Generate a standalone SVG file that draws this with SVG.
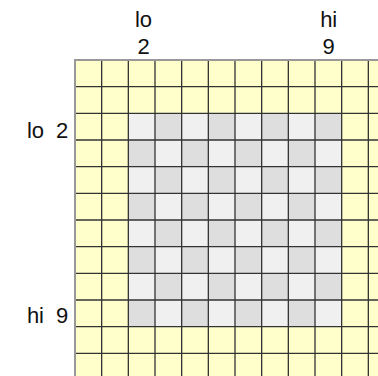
<svg xmlns="http://www.w3.org/2000/svg" width="378" height="376" viewBox="0 0 378 376">
<style>
.lbl{font-family:"Liberation Sans",Arial,sans-serif;font-size:22px;fill:#111}
.grid{stroke:#333;stroke-width:1.3;fill:none}
.edge{stroke:#999;stroke-width:2;fill:none}
</style>
<defs>
<pattern id="chk" patternUnits="userSpaceOnUse" x="128.333" y="113.333" width="53.333" height="53.333">
<rect width="53.333" height="53.333" fill="#f0f0f0"/>
<rect x="26.667" y="0" width="26.667" height="26.667" fill="#dedede"/>
<rect x="0" y="26.667" width="26.667" height="26.667" fill="#dedede"/>
</pattern>
</defs>
<rect width="378" height="376" fill="#fff"/>
<g id="array">
<rect x="75" y="60" width="303" height="316" fill="#ffffcc"/>
<rect x="128.333" y="113.333" width="213.333" height="213.333" fill="url(#chk)"/>
<path class="grid" d="M101.667 60V376M128.333 60V376M155 60V376M181.667 60V376M208.333 60V376M235 60V376M261.667 60V376M288.333 60V376M315 60V376M341.667 60V376M368.333 60V376
M75 86.667H378M75 113.333H378M75 140H378M75 166.667H378M75 193.333H378M75 220H378M75 246.667H378M75 273.333H378M75 300H378M75 326.667H378M75 353.333H378"/>
<path class="edge" d="M75 376V60H378"/>
</g>
<g id="labels">
<text class="lbl" x="143.5" y="27" text-anchor="middle">lo</text>
<text class="lbl" x="143.5" y="54" text-anchor="middle">2</text>
<text class="lbl" x="328.7" y="27" text-anchor="middle">hi</text>
<text class="lbl" x="328.7" y="54" text-anchor="middle">9</text>
<text class="lbl" x="44" y="138" text-anchor="end">lo</text>
<text class="lbl" x="68.3" y="138" text-anchor="end">2</text>
<text class="lbl" x="44" y="323" text-anchor="end">hi</text>
<text class="lbl" x="68.3" y="323" text-anchor="end">9</text>
</g>
</svg>
